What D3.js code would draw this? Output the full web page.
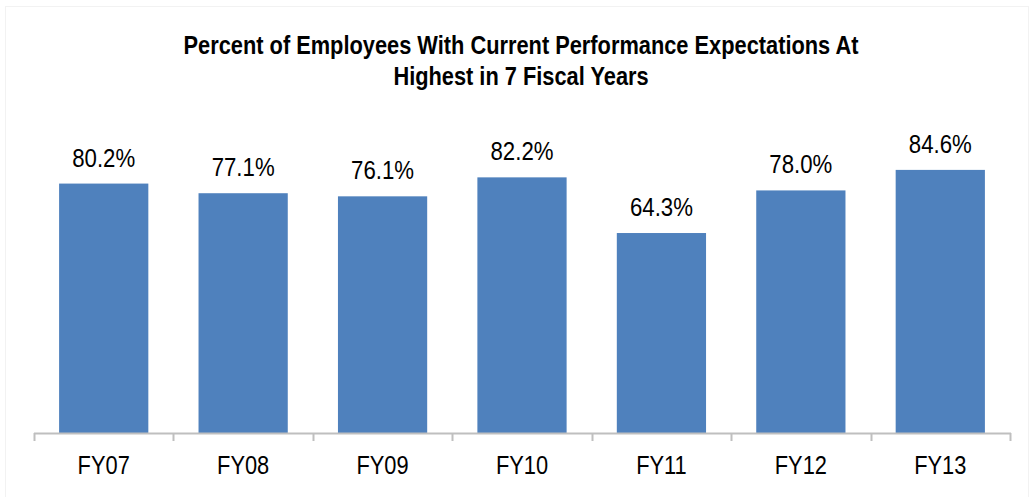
<!DOCTYPE html>
<html>
<head>
<meta charset="utf-8">
<script src="https://cdn.jsdelivr.net/npm/d3@7"></script>
<style>
  html, body { margin: 0; padding: 0; background: #fff; }
  svg text { font-family: "Liberation Sans Narrow", "Arial Narrow", "Liberation Sans", Arial, sans-serif; }
</style>
</head>
<body>
<svg id="chart" width="1029" height="497"></svg>
<script>
const categories = ["FY07", "FY08", "FY09", "FY10", "FY11", "FY12", "FY13"];
const values = [80.2, 77.1, 76.1, 82.2, 64.3, 78.0, 84.6];
const titleLines = ["Percent of Employees With Current Performance Expectations At", "Highest in 7 Fiscal Years"];

const svg = d3.select("#chart");
const W = 1029, H = 497;
const plotBottom = 433;
const narrow = 0.855; // horizontal condensing to imitate a narrow face

// chart frame border (faint)
svg.append("rect").attr("x", 5.5).attr("y", 6.5).attr("width", W - 6).attr("height", H - 6)
  .attr("fill", "none").attr("stroke", "#f2f2f2").attr("stroke-width", 1);

const x = d3.scaleBand().domain(categories).range([34, 1010]).paddingInner(0.36).paddingOuter(0.18);
const y = d3.scaleLinear().domain([0, 100]).range([plotBottom, 122]);

// title
svg.append("g").selectAll("text").data(titleLines).join("text")
  .attr("transform", (d, i) => `translate(521,${53.5 + i * 31.5}) scale(${narrow},1)`)
  .attr("text-anchor", "middle")
  .attr("font-weight", "bold").attr("font-size", 25.5).attr("fill", "#000")
  .text(d => d);

// bars
svg.append("g").selectAll("rect").data(categories).join("rect")
  .attr("x", d => x(d)).attr("width", x.bandwidth())
  .attr("y", (d, i) => y(values[i])).attr("height", (d, i) => plotBottom - y(values[i]))
  .attr("fill", "#4F81BD");

// value labels
svg.append("g").selectAll("text").data(categories).join("text")
  .attr("transform", (d, i) => `translate(${x(d) + x.bandwidth() / 2},${y(values[i]) - 17}) scale(${narrow},1)`)
  .attr("text-anchor", "middle").attr("font-size", 26).attr("fill", "#000")
  .text((d, i) => values[i].toFixed(1) + "%");

// axis
const axisG = svg.append("g").attr("transform", `translate(0,${plotBottom})`);
axisG.append("line").attr("x1", 34).attr("x2", 1011).attr("y1", 0.5).attr("y2", 0.5)
  .attr("stroke", "#bfbfbf").attr("stroke-width", 2);
const bounds = d3.range(categories.length + 1).map(i => 34 + i * (976 / categories.length));
axisG.selectAll("line.tick").data(bounds).join("line").attr("class", "tick")
  .attr("x1", d => Math.round(d) + 0.5).attr("x2", d => Math.round(d) + 0.5)
  .attr("y1", 0).attr("y2", 8).attr("stroke", "#bfbfbf").attr("stroke-width", 2);
axisG.selectAll("text").data(categories).join("text")
  .attr("transform", d => `translate(${x(d) + x.bandwidth() / 2},41) scale(0.84,1)`)
  .attr("text-anchor", "middle").attr("font-size", 26).attr("fill", "#000")
  .text(d => d);
</script>
</body>
</html>
